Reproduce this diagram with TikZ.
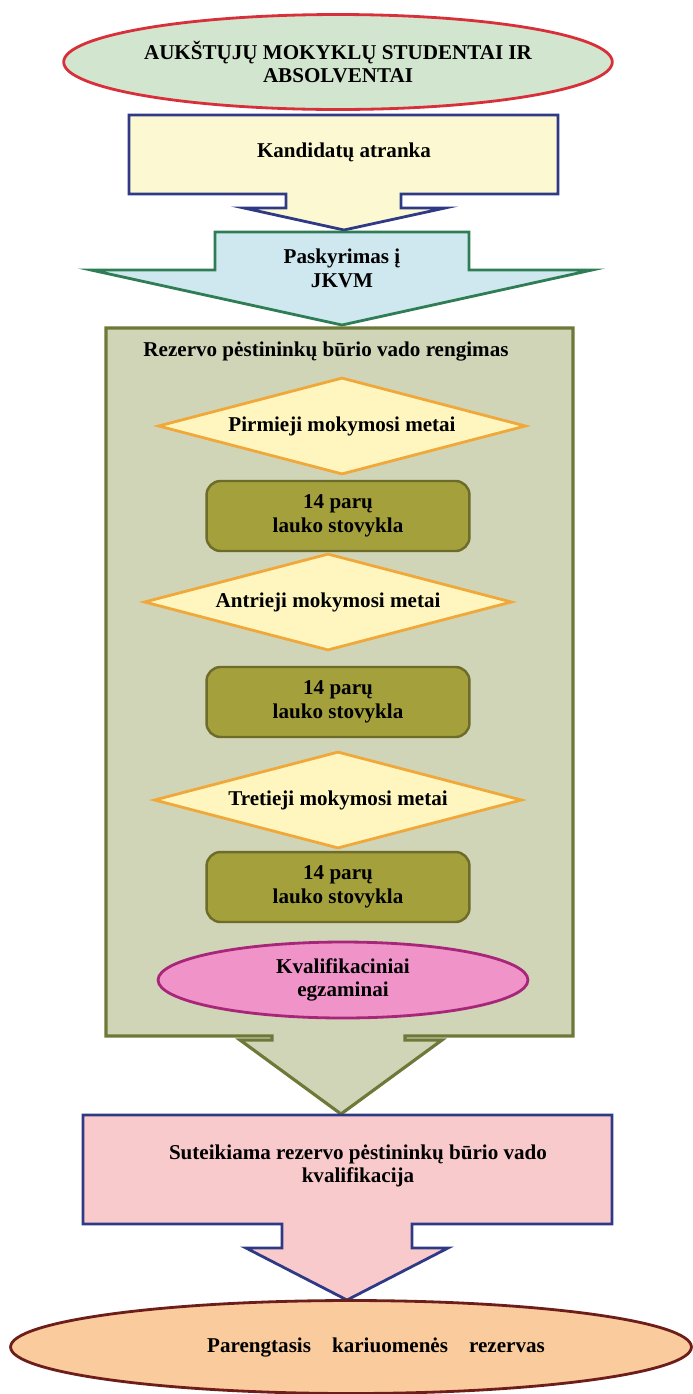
\documentclass[tikz,border=0pt]{standalone}
\usepackage{fontspec}
\setmainfont{Liberation Serif}
\usetikzlibrary{shapes.geometric}
\definecolor{greenl}{HTML}{D2E6CF}
\definecolor{redb}{HTML}{D8303A}
\definecolor{yellowl}{HTML}{FCF9D2}
\definecolor{navyb}{HTML}{2F3A87}
\definecolor{bluel}{HTML}{CFE8EF}
\definecolor{greenb}{HTML}{2E7D55}
\definecolor{olivel}{HTML}{D1D5B7}
\definecolor{oliveb}{HTML}{6E7838}
\definecolor{yellowd}{HTML}{FEF6BE}
\definecolor{orangeb}{HTML}{F0A83A}
\definecolor{olivem}{HTML}{A4A13C}
\definecolor{olived}{HTML}{6D6C2A}
\definecolor{pinkm}{HTML}{EF93C9}
\definecolor{magb}{HTML}{A8267A}
\definecolor{pinkl}{HTML}{F8CACC}
\definecolor{peach}{HTML}{FACB9C}
\definecolor{brownb}{HTML}{6E1E1A}
\begin{document}
\begin{tikzpicture}[
        x=0.02cm,
        y=-0.02cm,
        thick,
        font=\fontsize{12}{13.5}\selectfont\bfseries
    ]
    \tikzset{
        elltop/.style = {ellipse, draw=redb, fill=greenl, line width=1.6pt, minimum width=9.38cm, minimum height=1.9cm, align=center, inner sep=0pt},
        arrowy/.style = {draw=navyb, fill=yellowl, line width=1.6pt},
        arrowb/.style = {draw=greenb, fill=bluel, line width=1.6pt},
        bigbox/.style = {draw=oliveb, fill=olivel, line width=1.8pt},
        arrowp/.style = {draw=navyb, fill=pinkl, line width=1.6pt},
        yeardia/.style = {diamond, aspect=3.8, draw=orangeb, fill=yellowd, line width=1.6pt, inner sep=0pt, minimum width=7.36cm, minimum height=1.94cm},
        campbox/.style = {rectangle, rounded corners=8pt, draw=olived, fill=olivem, line width=1.4pt, minimum width=5.26cm, minimum height=1.4cm, align=center},
        exam/.style = {ellipse, draw=magb, fill=pinkm, line width=1.6pt, minimum width=7.4cm, minimum height=1.52cm, align=center, inner sep=0pt},
        ellbot/.style = {ellipse, draw=brownb, fill=peach, line width=1.6pt, minimum width=13.62cm, minimum height=1.86cm, inner sep=0pt},
        lbl/.style = {align=center, inner sep=1pt},
    }
    \useasboundingbox (0,0) rectangle (693,1394);
    %
    \node[elltop] (stud) at (338,62) {AUKŠTŲJŲ MOKYKLŲ STUDENTAI IR\\ABSOLVENTAI};
    %
    \draw[arrowy] (129,115) -- (558,115) -- (558,194) -- (401,194) -- (401,208) -- (445,208)
        -- (344,230) -- (244,208) -- (286,208) -- (286,194) -- (129,194) -- cycle;
    \node[lbl] (atr) at (344,152) {Kandidatų atranka};
    %
    \draw[arrowb] (215,232) -- (469,232) -- (469,270) -- (592,270) -- (342,325)
        -- (91,270) -- (215,270) -- cycle;
    \node[lbl] (jkvm) at (342,268) {Paskyrimas į\\JKVM};
    %
    \draw[bigbox] (106,328) -- (573,328) -- (573,1036) -- (405,1036) -- (405,1040) -- (442,1040)
        -- (341,1114) -- (240,1040) -- (272,1040) -- (272,1036) -- (106,1036) -- cycle;
    \node[lbl] (reng) at (326,352) {Rezervo pėstininkų būrio vado rengimas};
    %
    \node[yeardia] (m1) at (342,426) {Pirmieji mokymosi metai};
    \node[campbox] (s1) at (338,516) {14 parų\\lauko stovykla};
    \node[yeardia] (m2) at (328,602) {Antrieji mokymosi metai};
    \node[campbox] (s2) at (338,702) {14 parų\\lauko stovykla};
    \node[yeardia] (m3) at (338,800) {Tretieji mokymosi metai};
    \node[campbox] (s3) at (338,887) {14 parų\\lauko stovykla};
    \node[exam] (egz) at (343,980) {Kvalifikaciniai\\egzaminai};
    %
    \draw[arrowp] (83,1115) -- (612,1115) -- (612,1224) -- (412,1224) -- (412,1248) -- (448,1248)
        -- (347,1300) -- (246,1248) -- (282,1248) -- (282,1224) -- (83,1224) -- cycle;
    \node[lbl] (kval) at (358,1166) {Suteikiama rezervo pėstininkų būrio vado\\kvalifikacija};
    %
    \node[ellbot] (rez) at (351,1347) {\hspace*{1cm}Parengtasis\hspace{9pt} kariuomenės\hspace{9pt} rezervas};
\end{tikzpicture}
\end{document}
